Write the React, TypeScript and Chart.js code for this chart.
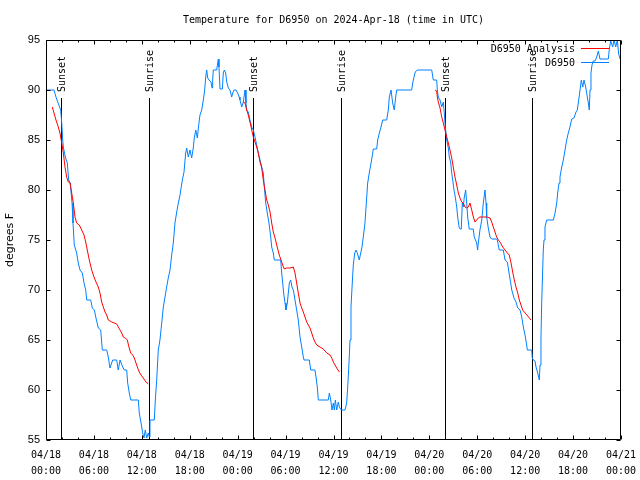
import React, { useEffect, useRef } from "react";
import { Chart, registerables } from "chart.js";

Chart.register(...registerables);

const TITLE = "Temperature for D6950 on 2024-Apr-18 (time in UTC)";
const Y_LABEL = "degrees F";
const SERIES_ANALYSIS = "D6950 Analysis";
const SERIES_OBS = "D6950";

// x axis: hours since 04/18 00:00 UTC
const X_MIN = 0;
const X_MAX = 72;
const X_TICK_DATES = ["04/18", "04/18", "04/18", "04/18", "04/19", "04/19", "04/19", "04/19", "04/20", "04/20", "04/20", "04/20", "04/21"];
const X_TICK_TIMES = ["00:00", "06:00", "12:00", "18:00", "00:00", "06:00", "12:00", "18:00", "00:00", "06:00", "12:00", "18:00", "00:00"];
const Y_MIN = 55;
const Y_MAX = 95;

// Observations (blue)
const obsHours = [
  0, 1.0, 1.25, 1.47, 1.84, 1.97, 2.09, 2.17, 2.42, 2.67, 2.84, 3.04, 3.26, 3.38, 3.54, 3.84, 4.04, 4.26, 4.55, 4.76,
  4.97, 5.1, 5.6, 5.8, 6.05, 6.26, 6.55, 6.85, 7.05, 7.6, 7.8, 8.01, 8.35, 8.85, 9.05, 9.27, 9.55, 9.8, 10.1, 10.23,
  10.43, 10.61, 11.56, 11.68, 11.9, 12.11, 12.27, 12.43, 12.61, 12.81, 12.94, 13.02, 13.56, 13.69, 13.86, 14.06, 14.27, 14.49, 14.69, 14.9,
  15.11, 15.31, 15.53, 15.74, 15.94, 16.15, 16.37, 16.57, 16.78, 17.07, 17.28, 17.49, 17.62, 17.82, 18.03, 18.24, 18.44, 18.57, 18.75, 18.95,
  19.12, 19.28, 19.5, 19.7, 19.87, 20.0, 20.12, 20.25, 20.41, 20.66, 20.79, 20.87, 20.95, 21.37, 21.5, 21.58, 21.66, 21.79, 22.08, 22.2,
  22.33, 22.5, 22.63, 22.83, 23.04, 23.25, 23.38, 23.54, 23.79, 24.0, 24.2, 24.29, 24.51, 24.71, 24.92, 25.04, 25.13, 25.33, 25.54, 25.76,
  25.96, 26.17, 26.38, 26.58, 26.8, 27.01, 27.21, 27.34, 27.51, 27.71, 27.92, 28.14, 28.26, 28.46, 28.59, 29.39, 29.51, 29.64, 29.76, 29.93,
  30.05, 30.22, 30.34, 30.47, 30.64, 30.8, 30.97, 31.18, 31.39, 31.59, 31.81, 32.02, 32.22, 32.31, 32.97, 33.15, 33.68, 33.81, 33.97, 34.1,
  35.35, 35.48, 35.65, 35.81, 35.98, 36.1, 36.23, 36.4, 36.6, 36.73, 36.98, 37.44, 37.65, 37.78, 37.94, 38.07, 38.19, 38.35, 38.48, 38.66,
  38.82, 38.98, 39.23, 39.41, 39.57, 39.73, 39.94, 40.11, 40.28, 40.48, 40.7, 40.91, 40.98, 41.41, 41.53, 41.74, 41.95, 42.16, 42.66, 42.86,
  42.99, 43.2, 43.41, 43.61, 43.79, 43.91, 45.79, 45.92, 46.08, 46.24, 46.49, 48.3, 48.5, 48.92, 49.0, 49.12, 49.34, 49.55, 49.75, 49.87,
  50.0, 50.18, 50.38, 50.5, 50.68, 50.8, 50.93, 51.09, 51.25, 51.43, 51.55, 51.72, 51.84, 52.0, 52.13, 52.25, 52.38, 52.55, 52.68, 52.8,
  53.0, 53.5, 53.63, 53.93, 54.05, 54.13, 54.34, 54.56, 54.76, 54.97, 55.1, 55.18, 55.38, 55.6, 55.81, 56.43, 56.51, 56.76, 57.26, 57.48,
  57.77, 57.98, 58.19, 58.32, 58.6, 58.85, 59.07, 59.36, 59.57, 59.77, 59.98, 60.19, 60.27, 60.82, 60.89, 61.02, 61.23, 61.36, 61.57, 61.69,
  61.77, 61.86, 61.98, 62.07, 62.2, 62.27, 62.36, 62.48, 62.7, 63.53, 63.74, 63.95, 64.07, 64.24, 64.36, 64.58, 64.78, 64.99, 65.2, 65.4,
  65.61, 65.83, 66.11, 66.37, 66.53, 66.7, 66.87, 67.03, 67.21, 67.37, 67.58, 67.78, 67.91, 68.03, 68.12, 68.24, 68.37, 68.53, 68.75, 68.96,
  69.16, 69.37, 70.41, 70.54, 70.71, 70.96, 71.12, 71.34, 71.54, 71.71, 71.88,
];
const obsTemps = [
  90, 90, 89.3, 88.8, 88, 86.7, 85, 84.3, 83.3, 82.7, 81, 80.7, 78.7, 76.7, 74.5, 73.7, 72.7, 72, 71.7, 70.7,
  70, 69, 69, 68.2, 68, 67.2, 66.2, 66, 64, 64, 63.3, 62.2, 63, 63, 62, 63, 62.4, 62, 62, 60.7,
  59.7, 59, 59, 57.7, 56.7, 55.7, 55.2, 56, 55.2, 55.7, 55.3, 57, 57, 59, 61, 64, 65, 66.7, 68.3, 69.3,
  70.3, 71.2, 72, 73.5, 74.7, 76.7, 77.8, 78.7, 79.5, 81, 81.8, 83.7, 84.2, 83.3, 84, 83.2, 84.2, 85.2, 86, 85.2,
  86.5, 87.5, 88, 89, 90, 91.3, 92, 91.2, 91, 90.8, 90.2, 91, 92, 92, 92.7, 93.1, 92.3, 90.1, 90.1, 91.7,
  92, 91.7, 90.8, 90.2, 90, 89.3, 89.7, 90, 90, 89.7, 89.3, 89, 88.3, 88.8, 90, 88.7, 88, 87.8, 87, 86.3,
  86, 85.3, 84.5, 83.7, 83, 82.3, 81.7, 80.3, 78.7, 77.7, 76.7, 75.3, 74.3, 73.7, 73, 73, 71.7, 70.7, 69.7, 68.7,
  68, 68.7, 69.7, 70.7, 71, 70.3, 70, 69, 68, 67, 65.3, 64.3, 63.3, 63, 63, 62, 62, 61.3, 60.3, 59,
  59, 59.7, 59, 58, 58.7, 58, 59, 58, 58.8, 58.3, 58, 58, 58.7, 60.3, 62.7, 65, 68.3, 70.7, 72.5, 73.7,
  74, 73.7, 73, 73.7, 74.3, 75.3, 76.7, 78.7, 80.7, 81.7, 82.7, 83.7, 84.1, 84.1, 85, 85.7, 86.3, 87, 87, 88,
  89.3, 90, 88.7, 88, 89.3, 90, 90, 90.7, 91.3, 91.8, 92, 92, 91, 91, 90, 89.3, 89, 88.3, 88.8, 87.7,
  86.3, 85, 84.2, 83.3, 82.7, 81.7, 81, 80, 79.3, 78.3, 77.3, 76.3, 76.1, 76.1, 78.7, 78.3, 79.3, 80, 78.7, 77.3,
  76.1, 76.1, 75.3, 74.7, 74, 74.7, 76, 77, 78.7, 80, 78.7, 77.3, 76.2, 75.3, 75.1, 75.1, 75, 74, 74, 73,
  72.8, 71.7, 70.7, 70, 69.2, 68.8, 68.2, 68, 67.3, 66.3, 65.5, 64.5, 64, 64, 63.2, 63, 62.9, 62.3, 61.7, 61.3,
  61, 62.5, 65.3, 68.7, 72.2, 74, 75, 76.3, 77, 77, 77.7, 78.7, 79.7, 80.7, 81.3, 82.3, 83, 84, 85, 85.7,
  86.3, 87.1, 87.2, 87.8, 88, 89, 90, 91, 90.3, 91, 90.3, 89.3, 88.7, 88, 90, 91.7, 92.5, 92.9, 92.9, 93.3,
  93.9, 93.1, 93.1, 94.1, 94.9, 94.3, 95, 94.3, 95, 93.6, 93.1,
];

// Analysis (red); null breaks the line between nights
const anaHours = [
  0.79, 1.0, 1.25, 1.54, 1.75, 1.97, 2.17, 2.38, 2.59, 2.79, 3.01, 3.22, 3.42, 3.63, 3.84, 4.17, 4.47, 4.76, 4.97, 5.17,
  5.42, 5.72, 6.01, 6.26, 6.55, 6.76, 6.97, 7.18, 7.39, 7.6, 7.8, 8.23, 8.85, 9.05, 9.27, 9.48, 9.68, 9.93, 10.18, 10.39,
  10.61, 10.86, 11.06, 11.27, 11.48, 11.68, 11.9, 12.18, 12.52, 12.81,
  18.0,
  24.71, 24.92, 25.13, 25.33, 25.54, 25.76, 25.96, 26.17, 26.38, 26.58, 26.8, 27.01, 27.21, 27.42, 27.64, 27.84, 28.05, 28.26, 28.46, 28.68,
  28.89, 29.21, 29.43, 29.64, 29.84, 30.14, 30.55, 30.97, 31.18, 31.39, 31.59, 31.81, 32.02, 32.22, 32.43, 32.64, 32.85, 33.06, 33.27, 33.47,
  33.68, 33.9, 34.31, 34.72, 35.15, 35.56, 35.78, 35.98, 36.19, 36.4, 36.73,
  42.0,
  48.71, 48.92, 49.0, 49.12, 49.34, 49.55, 49.75, 49.96, 50.18, 50.38, 50.59, 50.8, 51.0, 51.21, 51.43, 51.63, 51.84, 52.05, 52.25, 52.47,
  52.68, 52.88, 53.09, 53.31, 53.51, 53.72, 53.93, 54.13, 54.34, 55.18, 55.6, 55.81, 56.01, 56.22, 56.43, 56.64, 56.85, 57.19, 57.48, 57.77,
  58.01, 58.23, 58.44, 58.64, 58.85, 59.07, 59.27, 59.48, 59.69, 59.89, 60.11, 60.32, 60.52, 60.73,
];
const anaTemps = [
  88.3, 87.7, 87, 86.3, 85.7, 84.7, 83.7, 82.3, 81.3, 80.8, 80.7, 79.7, 78.7, 77.3, 76.7, 76.5, 76, 75.5, 74.8, 74,
  73, 72, 71.3, 70.8, 70.3, 69.7, 68.8, 68.3, 67.8, 67.5, 67, 66.8, 66.6, 66.3, 66, 65.7, 65.3, 65.2, 65, 64.3,
  63.7, 63.5, 63.2, 62.7, 62.2, 61.8, 61.5, 61.2, 60.8, 60.6,
  null,
  88.8, 88.7, 88, 87.5, 86.8, 86, 85.3, 84.8, 84.3, 83.7, 82.8, 82.2, 81, 80, 79, 78.5, 77.8, 76.7, 75.8, 75.2,
  74.5, 73.5, 73, 72.5, 72.1, 72.2, 72.2, 72.3, 71.7, 70.7, 69.7, 68.7, 68.2, 67.8, 67.3, 66.8, 66.5, 66.2, 65.7, 65.2,
  64.8, 64.5, 64.3, 64.1, 63.7, 63.5, 63.2, 62.8, 62.5, 62.2, 61.8,
  null,
  90, 89.9, 89.3, 88.8, 88.2, 87.3, 86.7, 86, 85.3, 84.7, 84, 83.2, 82.3, 81.3, 80.5, 79.7, 79.2, 78.8, 78.7, 78.3,
  78.2, 78.3, 78.7, 78, 77.3, 76.8, 77, 77.2, 77.3, 77.3, 77.2, 76.8, 76.3, 75.8, 75.3, 75, 74.8, 74.3, 74, 73.7,
  73.5, 72.7, 71.8, 71, 70.3, 69.7, 69, 68.5, 68, 67.8, 67.6, 67.4, 67.2, 67,
];

const sunsetHours = [1.92, 25.95, 49.98];
const sunriseHours = [12.94, 36.96, 60.87];
const SUN_LINE_TOP = 89.2;

const RED = "#ff0000";
const BLUE = "#0080ff";
const MONO = '10px "DejaVu Sans Mono", "Liberation Mono", monospace';

const gnuplotPlugin = {
  id: "gnuplotFrame",
  beforeDatasetsDraw(chart: any) {
    const { ctx, chartArea: a, scales } = chart;
    const x = scales.x;
    const y = scales.y;
    ctx.save();
    ctx.strokeStyle = "#000";
    ctx.fillStyle = "#000";
    ctx.lineWidth = 1;
    ctx.font = MONO;
    const top = Math.round(y.getPixelForValue(SUN_LINE_TOP));
    const events: [number, string][] = [
      ...sunsetHours.map((h) => [h, "Sunset"] as [number, string]),
      ...sunriseHours.map((h) => [h, "Sunrise"] as [number, string]),
    ];
    for (const [h, label] of events) {
      const px = Math.round(x.getPixelForValue(h)) + 0.5;
      ctx.beginPath();
      ctx.moveTo(px, top);
      ctx.lineTo(px, a.bottom);
      ctx.stroke();
      ctx.save();
      ctx.translate(px + 1, top - 6);
      ctx.rotate(-Math.PI / 2);
      ctx.textAlign = "left";
      ctx.textBaseline = "middle";
      ctx.fillText(label, 0, 0);
      ctx.restore();
    }
    ctx.restore();
  },
  afterDatasetsDraw(chart: any) {
    const { ctx, chartArea: a, scales } = chart;
    const x = scales.x;
    const y = scales.y;
    ctx.save();
    ctx.strokeStyle = "#000";
    ctx.lineWidth = 1;
    const L = Math.floor(a.left) + 0.5;
    const R = Math.floor(a.right) - 0.5;
    const T = Math.floor(a.top) + 0.5;
    const B = Math.floor(a.bottom) - 0.5;
    ctx.beginPath();
    ctx.rect(L, T, R - L, B - T);
    // x ticks every 2 h (major every 6 h)
    for (let h = X_MIN; h <= X_MAX; h += 2) {
      const px = Math.round(x.getPixelForValue(h)) + 0.5;
      const len = h % 6 === 0 ? 4 : 2;
      ctx.moveTo(px, B);
      ctx.lineTo(px, B - len);
      ctx.moveTo(px, T);
      ctx.lineTo(px, T + len);
    }
    for (let v = Y_MIN; v <= Y_MAX; v += 5) {
      const py = Math.round(y.getPixelForValue(v)) + 0.5;
      ctx.moveTo(L, py);
      ctx.lineTo(L + 4, py);
      ctx.moveTo(R, py);
      ctx.lineTo(R - 4, py);
    }
    ctx.stroke();

    // title
    ctx.fillStyle = "#000";
    ctx.font = MONO;
    ctx.textAlign = "center";
    ctx.textBaseline = "middle";
    ctx.fillText(TITLE, (a.left + a.right) / 2, 20);

    // legend (gnuplot style: text then sample on the right)
    const ds = chart.data.datasets;
    ctx.textAlign = "right";
    ds.forEach((d: any, i: number) => {
      const ly = a.top + 9 + i * 14;
      ctx.fillStyle = "#000";
      ctx.fillText(d.label, a.right - 46, ly);
      ctx.strokeStyle = d.borderColor;
      ctx.beginPath();
      ctx.moveTo(a.right - 40, Math.round(ly) - 0.5);
      ctx.lineTo(a.right - 12, Math.round(ly) - 0.5);
      ctx.stroke();
    });
    ctx.restore();
  },
};

export default function App() {
  const ref = useRef<HTMLCanvasElement | null>(null);
  useEffect(() => {
    if (!ref.current) return;
    const obsData = obsHours.map((h, i) => ({ x: h, y: obsTemps[i] }));
    const anaData = anaHours.map((h, i) => ({ x: h, y: anaTemps[i] }));
    const chart = new Chart(ref.current, {
      type: "line",
      data: {
        datasets: [
          {
            label: SERIES_ANALYSIS,
            data: anaData as any,
            borderColor: RED,
            backgroundColor: RED,
            borderWidth: 1,
            pointRadius: 0,
            tension: 0,
            spanGaps: false,
          },
          {
            label: SERIES_OBS,
            data: obsData as any,
            borderColor: BLUE,
            backgroundColor: BLUE,
            borderWidth: 1,
            pointRadius: 0,
            tension: 0,
          },
        ],
      },
      options: {
        animation: false,
        responsive: false,
        devicePixelRatio: 1,
        layout: { padding: { top: 40, right: 19, left: 0, bottom: 0 } },
        plugins: {
          legend: { display: false },
          title: { display: false },
          tooltip: { enabled: false },
        },
        scales: {
          x: {
            type: "linear",
            min: X_MIN,
            max: X_MAX,
            afterFit: (s: any) => {
              s.height = 40;
              s.paddingLeft = 0;
              s.paddingRight = 0;
            },
            afterBuildTicks: (s: any) => {
              s.ticks = X_TICK_DATES.map((_, i) => ({ value: X_MIN + i * 6 }));
            },
            grid: { display: false, drawTicks: false },
            border: { display: false },
            ticks: {
              autoSkip: false,
              maxRotation: 0,
              padding: 7,
              color: "#000",
              font: { family: '"DejaVu Sans Mono", monospace', size: 10, lineHeight: "16px" },
              callback: (v: any) => {
                const i = Math.round((Number(v) - X_MIN) / 6);
                return [X_TICK_DATES[i], X_TICK_TIMES[i]];
              },
            },
          },
          y: {
            min: Y_MIN,
            max: Y_MAX,
            afterFit: (s: any) => {
              s.width = 46;
              s.paddingTop = 0;
              s.paddingBottom = 0;
            },
            grid: { display: false, drawTicks: false },
            border: { display: false },
            ticks: {
              stepSize: 5,
              padding: 6,
              color: "#000",
              font: { family: '"Liberation Sans", Arial, sans-serif', size: 11 },
            },
            title: {
              display: true,
              text: Y_LABEL,
              color: "#000",
              padding: { top: 4, bottom: 0 },
              font: { family: '"DejaVu Sans", sans-serif', size: 11 },
            },
          },
        },
      },
      plugins: [gnuplotPlugin],
    });
    return () => chart.destroy();
  }, []);
  return (
    <div style={{ position: "fixed", left: 0, top: 0, width: 640, height: 480, background: "#fff" }}>
      <canvas ref={ref} width={640} height={480} />
    </div>
  );
}
